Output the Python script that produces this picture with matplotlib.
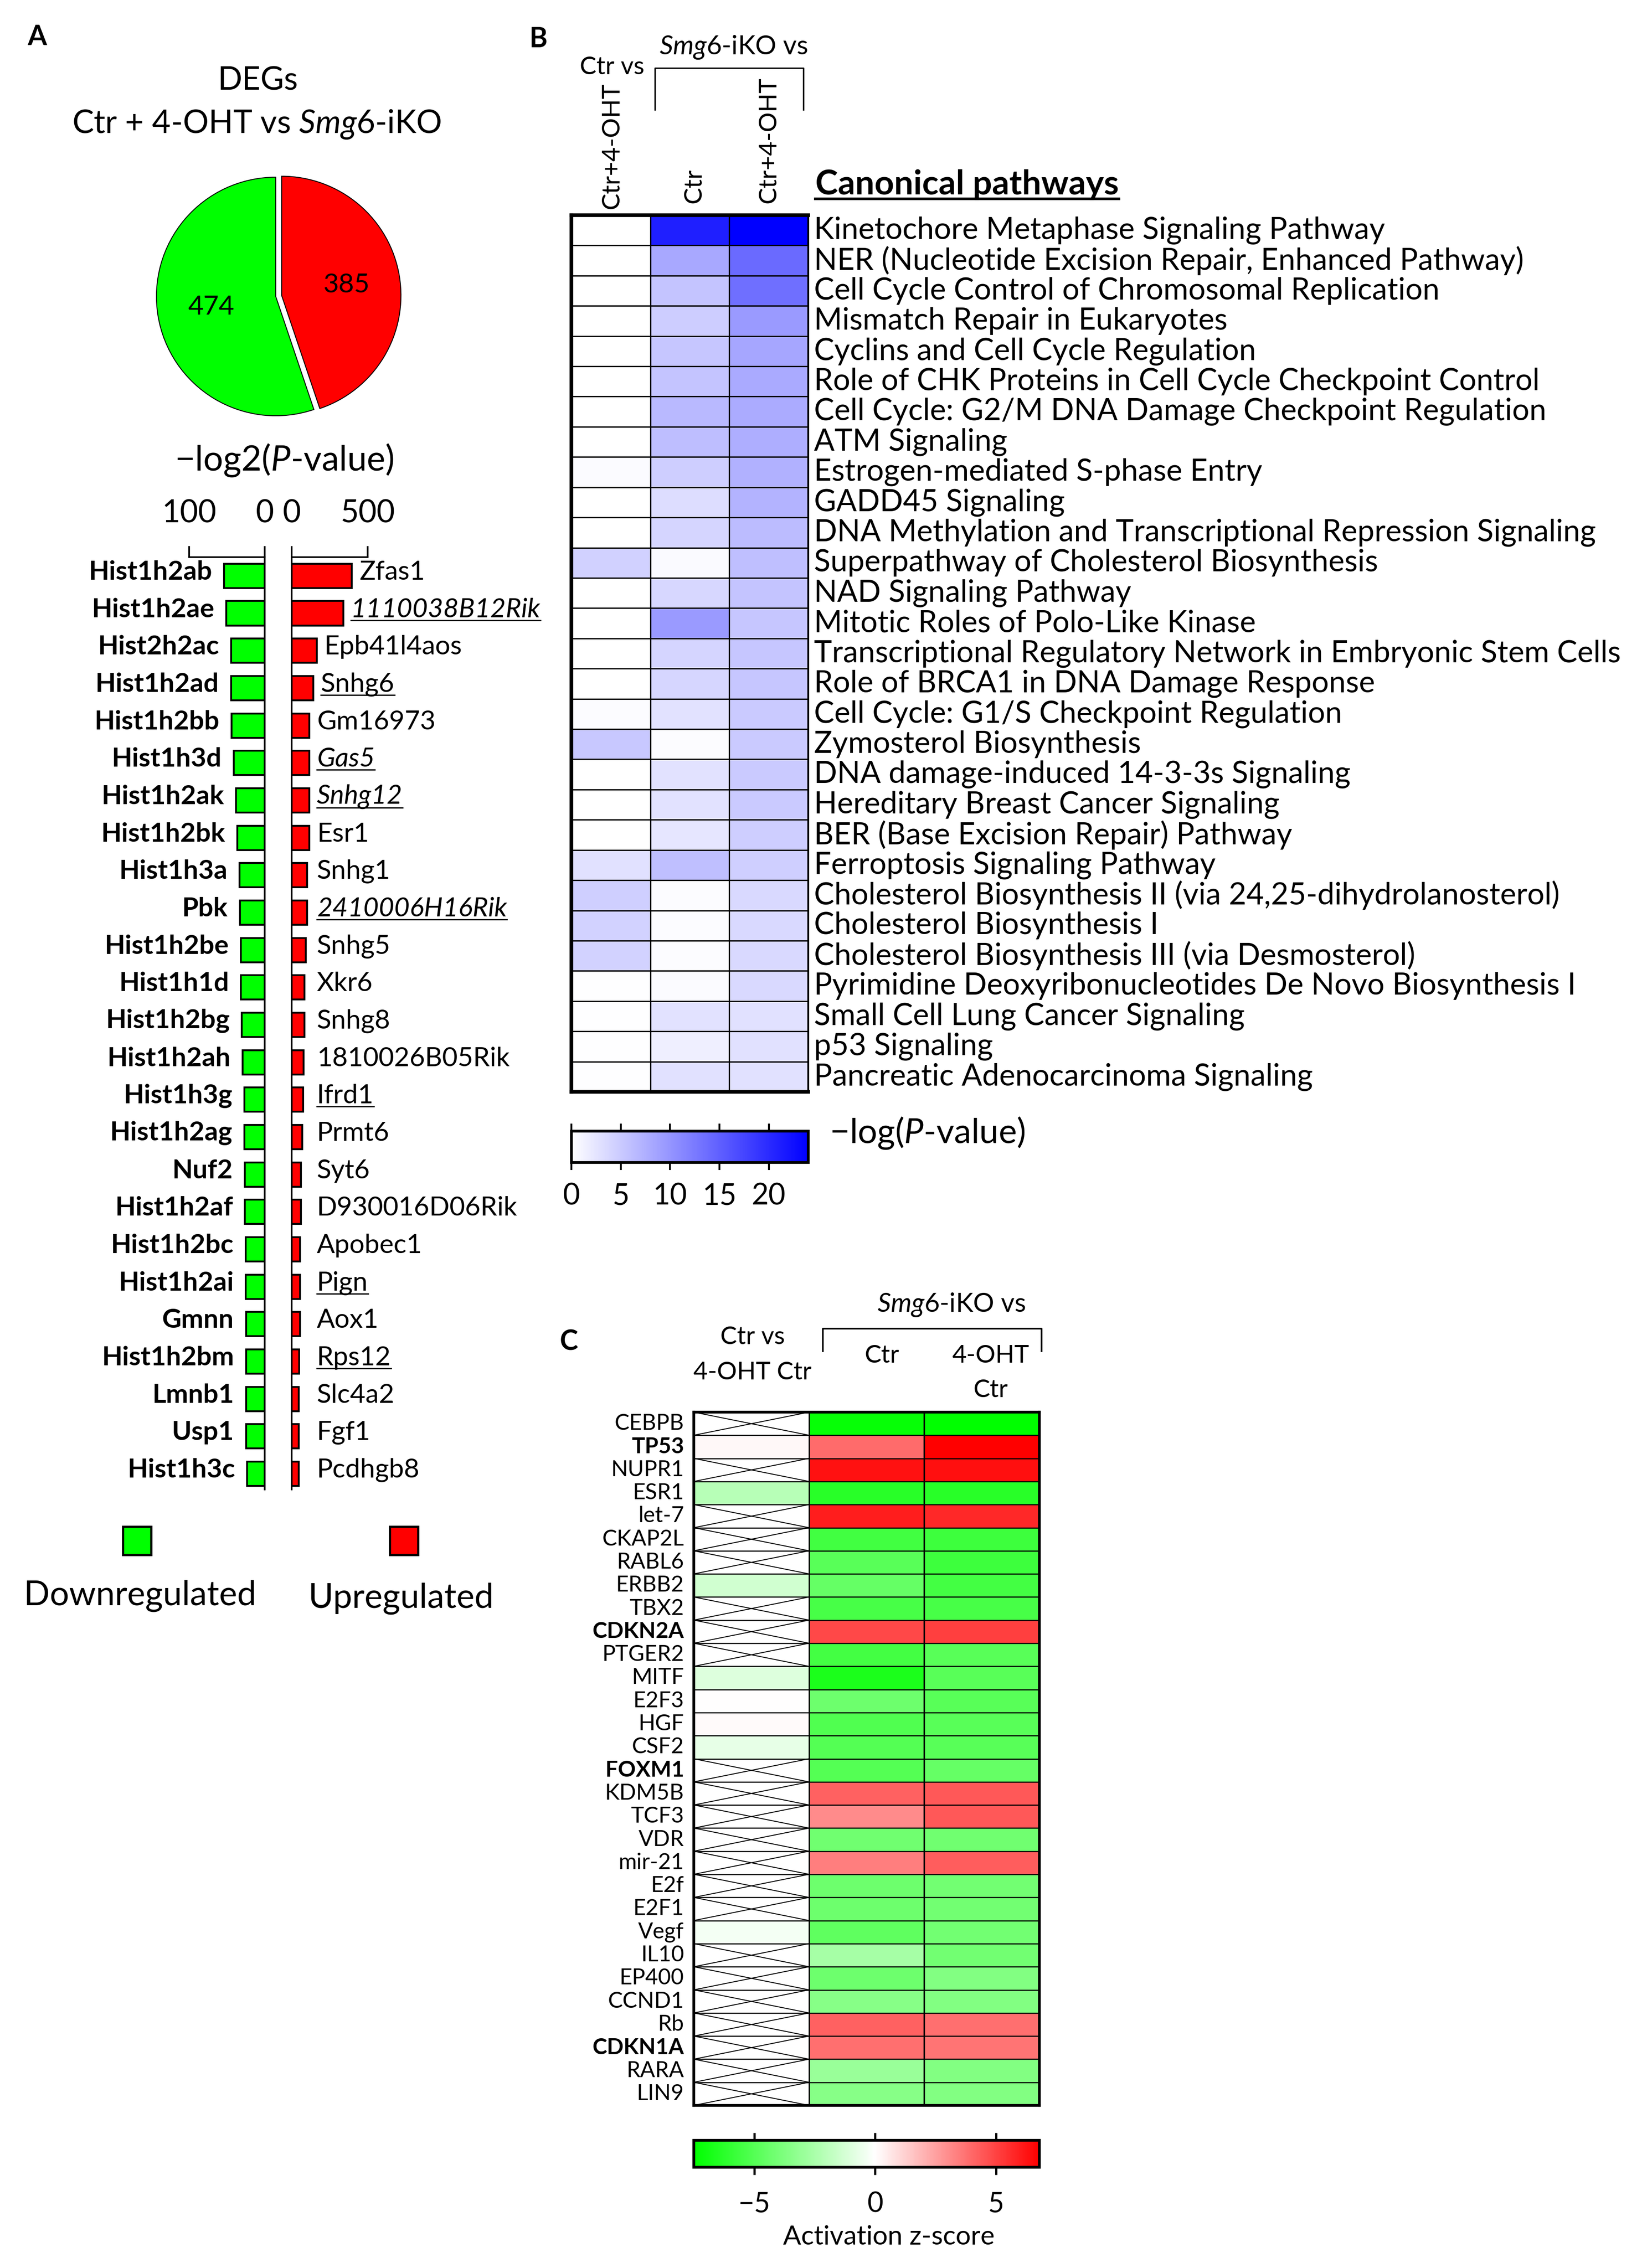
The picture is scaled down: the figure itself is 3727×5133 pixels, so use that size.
import matplotlib
matplotlib.use('Agg')
import matplotlib.pyplot as plt
import numpy as np
from matplotlib.colors import LinearSegmentedColormap, Normalize
from matplotlib.cm import ScalarMappable
from matplotlib.lines import Line2D
from matplotlib.patches import Rectangle

plt.rcParams['font.family'] = ['Lato', 'DejaVu Sans']
plt.rcParams['mathtext.fontset'] = 'custom'
plt.rcParams['mathtext.rm'] = 'Lato'
plt.rcParams['mathtext.it'] = 'Lato:italic'
plt.rcParams['mathtext.bf'] = 'Lato:bold'

W, H = 3728, 5133
DPI = 300
nan = np.nan

# ---------------- data ----------------
# A: pie (up, down)
deg_counts = [385, 474]

down_genes = ['Hist1h2ab', 'Hist1h2ae', 'Hist2h2ac', 'Hist1h2ad', 'Hist1h2bb', 'Hist1h3d',
              'Hist1h2ak', 'Hist1h2bk', 'Hist1h3a', 'Pbk', 'Hist1h2be', 'Hist1h1d',
              'Hist1h2bg', 'Hist1h2ah', 'Hist1h3g', 'Hist1h2ag', 'Nuf2', 'Hist1h2af',
              'Hist1h2bc', 'Hist1h2ai', 'Gmnn', 'Hist1h2bm', 'Lmnb1', 'Usp1', 'Hist1h3c']
down_logp = [53.6, 50.9, 44.6, 44.6, 44.0, 41.0, 37.8, 36.5, 33.3, 32.9, 31.5, 31.5,
             30.2, 29.3, 27.0, 27.0, 26.6, 26.1, 25.2, 25.2, 24.8, 24.8, 24.8, 24.8, 23.4]

up_genes = ['Zfas1', '1110038B12Rik', 'Epb41l4aos', 'Snhg6', 'Gm16973', 'Gas5', 'Snhg12',
            'Esr1', 'Snhg1', '2410006H16Rik', 'Snhg5', 'Xkr6', 'Snhg8', '1810026B05Rik',
            'Ifrd1', 'Prmt6', 'Syt6', 'D930016D06Rik', 'Apobec1', 'Pign', 'Aox1', 'Rps12',
            'Slc4a2', 'Fgf1', 'Pcdhgb8']
up_logp = [395, 339, 165, 143, 116, 116, 116, 116, 103, 103, 94, 85, 83, 78, 76, 69,
           62, 62, 56, 56, 54, 49, 47, 47, 47]
up_italic = ['1110038B12Rik', 'Gas5', 'Snhg12', '2410006H16Rik']
up_underline = ['1110038B12Rik', 'Snhg6', 'Gas5', 'Snhg12', '2410006H16Rik', 'Ifrd1',
                'Pign', 'Rps12']

# B: canonical pathways, -log(P-value)
pathways = [
    'Kinetochore Metaphase Signaling Pathway',
    'NER (Nucleotide Excision Repair, Enhanced Pathway)',
    'Cell Cycle Control of Chromosomal Replication',
    'Mismatch Repair in Eukaryotes',
    'Cyclins and Cell Cycle Regulation',
    'Role of CHK Proteins in Cell Cycle Checkpoint Control',
    'Cell Cycle: G2/M DNA Damage Checkpoint Regulation',
    'ATM Signaling',
    'Estrogen-mediated S-phase Entry',
    'GADD45 Signaling',
    'DNA Methylation and Transcriptional Repression Signaling',
    'Superpathway of Cholesterol Biosynthesis',
    'NAD Signaling Pathway',
    'Mitotic Roles of Polo-Like Kinase',
    'Transcriptional Regulatory Network in Embryonic Stem Cells',
    'Role of BRCA1 in DNA Damage Response',
    'Cell Cycle: G1/S Checkpoint Regulation',
    'Zymosterol Biosynthesis',
    'DNA damage-induced 14-3-3s Signaling',
    'Hereditary Breast Cancer Signaling',
    'BER (Base Excision Repair) Pathway',
    'Ferroptosis Signaling Pathway',
    'Cholesterol Biosynthesis II (via 24,25-dihydrolanosterol)',
    'Cholesterol Biosynthesis I',
    'Cholesterol Biosynthesis III (via Desmosterol)',
    'Pyrimidine Deoxyribonucleotides De Novo Biosynthesis I',
    'Small Cell Lung Cancer Signaling',
    'p53 Signaling',
    'Pancreatic Adenocarcinoma Signaling',
]
path_ctr_vs_oht = [0, 0, 0, 0, 0, 0, 0, 0, 0.4, 0, 0, 4.4, 0, 0, 0, 0, 0.3, 5.2, 0, 0,
                   0, 2.9, 4.5, 4.3, 4.3, 0.1, 0.1, 0.1, 0.1]
path_ko_vs_ctr = [21, 8.2, 5.6, 4.7, 5.4, 5.6, 6.6, 6.1, 4.6, 3.2, 4.0, 0.5, 3.8, 9.5, 4.0,
                  3.9, 2.8, 0.3, 2.8, 2.8, 2.4, 6.0, 0.3, 0.3, 0.3, 0.4, 2.8, 1.5, 2.9]
path_ko_vs_oht = [24, 14, 13.5, 9.5, 8.4, 8.0, 7.9, 7.6, 7.4, 7.2, 6.3, 6.0, 5.6, 5.4, 5.4,
                  5.4, 5.0, 5.0, 5.0, 5.0, 4.6, 4.5, 3.6, 3.6, 3.6, 3.6, 2.9, 2.9, 2.9]
b_ticks = [0, 5, 10, 15, 20]

# C: upstream regulators, activation z-score (nan = not determined)
regulators = ['CEBPB', 'TP53', 'NUPR1', 'ESR1', 'let-7', 'CKAP2L', 'RABL6', 'ERBB2', 'TBX2',
              'CDKN2A', 'PTGER2', 'MITF', 'E2F3', 'HGF', 'CSF2', 'FOXM1', 'KDM5B', 'TCF3',
              'VDR', 'mir-21', 'E2f', 'E2F1', 'Vegf', 'IL10', 'EP400', 'CCND1', 'Rb',
              'CDKN1A', 'RARA', 'LIN9']
bold_regs = ['TP53', 'CDKN2A', 'FOXM1', 'CDKN1A']
z_ctr_vs_oht = [nan, 0.2, nan, -2.1, nan, nan, nan, -1.4, nan, nan, nan, -1.0, 0.0, 0.1, -0.7,
                nan, nan, nan, nan, nan, nan, nan, -0.3, nan, nan, nan, nan, nan, nan, nan]
z_ko_vs_ctr = [-7.3, 3.9, 6.3, -6.3, 6.0, -5.6, -4.9, -4.5, -5.4, 4.9, -5.5, -6.7, -4.3, -5.1,
               -5.0, -5.0, 4.2, 3.1, -4.2, 3.4, -4.3, -4.3, -4.7, -2.6, -4.3, -3.5, 4.2, 3.8,
               -3.0, -3.5]
z_ko_vs_oht = [-7.5, 6.8, 6.4, -6.3, 5.7, -5.7, -5.7, -5.5, -5.4, 5.1, -4.9, -4.9, -4.9, -4.9,
               -4.9, -4.5, 4.4, 4.4, -4.2, 4.3, -4.1, -4.1, -4.1, -4.1, -3.7, -3.7, 3.8, 3.7,
               -3.7, -3.7]
z_min, z_max = -7.5, 6.8
c_ticks = [-5, 0, 5]

GREEN = '#00ff00'
RED = '#ff0000'

fig = plt.figure(figsize=(W / DPI, H / DPI), dpi=DPI)


def add_ax(x0, y0, x1, y1):
    # pixel box (top-left origin) -> axes
    return fig.add_axes([x0 / W, 1 - y1 / H, (x1 - x0) / W, (y1 - y0) / H])


def ftext(x, y, s, **kw):
    kw.setdefault('ha', 'center')
    kw.setdefault('va', 'center')
    return fig.text(x / W, 1 - y / H, s, **kw)


def fline(xs, ys, lw=0.9):
    fig.add_artist(Line2D([x / W for x in xs], [1 - y / H for y in ys],
                          color='black', lw=lw, solid_capstyle='butt'))


underlined = []

# ---------------- panel A ----------------
ftext(84, 84, 'A', fontsize=15, fontweight='bold')
ftext(583, 183, 'DEGs', fontsize=17.5)
ftext(581, 282, r'Ctr + 4-OHT vs $\mathit{Smg6}$-iKO', fontsize=17.5)

total = sum(deg_counts)
ax_pie = add_ax(624 - 351, 671 - 351, 624 + 351, 671 + 351)
ax_pie.pie(deg_counts, colors=[RED, GREEN], startangle=90, counterclock=False,
           explode=(0.05, 0), pctdistance=0.55,
           autopct=lambda p: f'{round(p * total / 100)}',
           wedgeprops=dict(edgecolor='black', linewidth=0.5),
           textprops=dict(fontsize=14.5, color='black'))
ax_pie.set_xlim(-1.3, 1.3)
ax_pie.set_ylim(-1.3, 1.3)
ax_pie.set_aspect('equal')
ax_pie.axis('off')

ftext(643, 1042, r'−log2($\mathit{P}$-value)', fontsize=19)

n_genes = len(down_genes)
rows = np.arange(n_genes)

axl = add_ax(428, 1261, 599, 3371)
axl.barh(rows, down_logp, height=0.65, color=GREEN, edgecolor='black', linewidth=1.0)
axl.set_xlim(100, 0)
axl.set_ylim(24.42, -0.5)
axr = add_ax(660, 1261, 832, 3371)
axr.barh(rows, up_logp, height=0.65, color=RED, edgecolor='black', linewidth=1.0)
axr.set_xlim(0, 500)
axr.set_ylim(24.42, -0.5)

for ax, keep, ticks in [(axl, ('top', 'right'), [100, 0]), (axr, ('top', 'left'), [0, 500])]:
    for s in ax.spines:
        ax.spines[s].set_visible(s in keep)
        ax.spines[s].set_linewidth(0.9)
    ax.xaxis.tick_top()
    ax.set_xticks(ticks)
    ax.set_yticks([])
    ax.tick_params(axis='x', direction='out', length=6, width=0.9, pad=10, labelsize=17)
    ax.patch.set_visible(False)

for i, (g, v) in enumerate(zip(down_genes, down_logp)):
    axl.text(v + 16, i - 0.1, g, ha='right', va='center', fontsize=14.5,
             fontweight='bold', clip_on=False)
for i, (g, v) in enumerate(zip(up_genes, up_logp)):
    t = axr.text(max(v + 50, 165), i - 0.1, g, ha='left', va='center', fontsize=14.5,
                 fontstyle='italic' if g in up_italic else 'normal', clip_on=False)
    if g in up_underline:
        underlined.append((t, 0.7))

for cx, col in [(310, GREEN), (914, RED)]:
    fig.add_artist(Rectangle(((cx - 32) / W, 1 - (3487 + 32) / H), 64 / W, 64 / H,
                             facecolor=col, edgecolor='black', linewidth=1.2))
ftext(317, 3612, 'Downregulated', fontsize=18.5)
ftext(908, 3618, 'Upregulated', fontsize=18.5)

# ---------------- panel B ----------------
ftext(1219, 89, 'B', fontsize=15, fontweight='bold')
ftext(1660, 107, r'$\mathit{Smg6}$-iKO vs', fontsize=14.3)
ftext(1385, 152, 'Ctr vs', fontsize=13.5)
fline([1482, 1482, 1818, 1818], [250, 154, 154, 250], lw=0.8)
ftext(1385, 473, 'Ctr+4-OHT', rotation=90, va='bottom', fontsize=13.5)
ftext(1571, 460, 'Ctr', rotation=90, va='bottom', fontsize=13.5)
ftext(1740, 460, 'Ctr+4-OHT', rotation=90, va='bottom', fontsize=13.5)
t = ftext(1845, 418, 'Canonical pathways', ha='left', fontsize=18.5, fontweight='bold')
underlined.append((t, 1.4))

blue_cmap = LinearSegmentedColormap.from_list('wb', ['#ffffff', '#0000ff'])
b_norm = Normalize(0, 24)
data_b = np.column_stack([path_ctr_vs_oht, path_ko_vs_ctr, path_ko_vs_oht])
axb = add_ax(1293, 487, 1829, 2471)
axb.pcolormesh(np.arange(4), np.arange(len(pathways) + 1), data_b, cmap=blue_cmap,
               norm=b_norm, edgecolors='black', linewidth=0.7)
axb.set_xlim(0, 3)
axb.set_ylim(len(pathways), 0)
axb.set_xticks([])
axb.set_yticks([])
for s in axb.spines:
    axb.spines[s].set_linewidth(2.0)
axb.spines['right'].set_linewidth(1.0)
for i, p in enumerate(pathways):
    axb.text(3.07, i + 0.5, p, ha='left', va='center', fontsize=16.5, clip_on=False)

caxb = add_ax(1293, 2560, 1829, 2631)
cbb = fig.colorbar(ScalarMappable(norm=b_norm, cmap=blue_cmap), cax=caxb,
                   orientation='horizontal')
cbb.set_ticks(b_ticks)
caxb.tick_params(axis='x', direction='out', length=4, width=1.0, top=True, bottom=True,
                 labeltop=False, labelbottom=True, labelsize=16, pad=7)
cbb.outline.set_linewidth(1.5)
ftext(1877, 2564, r'−log($\mathit{P}$-value)', ha='left', fontsize=18.7)

# ---------------- panel C ----------------
ftext(1287, 3037, 'C', fontsize=15, fontweight='bold')
ftext(2153, 2953, r'$\mathit{Smg6}$-iKO vs', fontsize=14.3)
fline([1862, 1862, 2357, 2357], [3060, 3007, 3007, 3060], lw=0.9)
ftext(1703, 3026, 'Ctr vs', fontsize=13.5)
ftext(1703, 3107, '4-OHT Ctr', fontsize=13.5)
ftext(1996, 3068, 'Ctr', fontsize=13.5)
ftext(2242, 3068, '4-OHT', fontsize=13.5)
ftext(2242, 3146, 'Ctr', fontsize=13.5)

wp = -z_min / (z_max - z_min)
gwr_cmap = LinearSegmentedColormap.from_list('gwr', [(0, GREEN), (wp, '#ffffff'), (1, RED)])
c_norm = Normalize(z_min, z_max)
data_c = np.ma.masked_invalid(np.column_stack([z_ctr_vs_oht, z_ko_vs_ctr, z_ko_vs_oht]))
n_reg = len(regulators)
axc = add_ax(1570, 3196, 2352, 4765)
axc.pcolormesh(np.arange(4), np.arange(n_reg + 1), data_c, cmap=gwr_cmap, norm=c_norm)
axc.hlines(np.arange(1, n_reg), 0, 3, color='black', lw=0.6)
axc.vlines([1, 2], 0, n_reg, color='black', lw=0.8)
for i, v in enumerate(z_ctr_vs_oht):
    if np.isnan(v):
        axc.plot([0, 1], [i, i + 1], color='black', lw=0.5)
        axc.plot([0, 1], [i + 1, i], color='black', lw=0.5)
axc.set_xlim(0, 3)
axc.set_ylim(n_reg, 0)
axc.set_xticks([])
axc.set_yticks([])
for s in axc.spines:
    axc.spines[s].set_linewidth(1.5)
for i, r in enumerate(regulators):
    axc.text(-0.085, i + 0.5, r, ha='right', va='center', fontsize=12,
             fontweight='bold' if r in bold_regs else 'normal', clip_on=False)

caxc = add_ax(1570, 4844, 2352, 4905)
cbc = fig.colorbar(ScalarMappable(norm=c_norm, cmap=gwr_cmap), cax=caxc,
                   orientation='horizontal')
cbc.set_ticks(c_ticks)
caxc.tick_params(axis='x', direction='out', length=4, width=1.2, top=True, bottom=True,
                 labeltop=False, labelbottom=True, labelsize=15, pad=9)
cbc.outline.set_linewidth(1.5)
ftext(2011, 5063, 'Activation z-score', fontsize=14.5)

# underlines drawn after layout is known
fig.canvas.draw()
renderer = fig.canvas.get_renderer()
for t, lw in underlined:
    bb = t.get_window_extent(renderer)
    y = (bb.y0 + 3) / H
    fig.add_artist(Line2D([bb.x0 / W, bb.x1 / W], [y, y], color='black', lw=lw))

fig.savefig('out.png', dpi=DPI)
